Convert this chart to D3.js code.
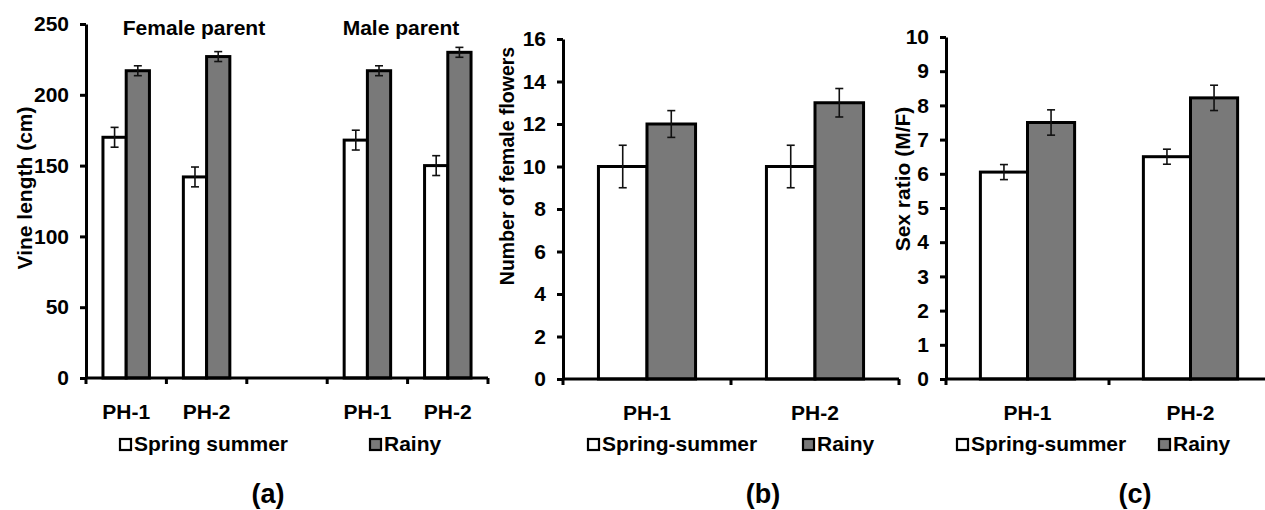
<!DOCTYPE html>
<html>
<head>
<meta charset="utf-8">
<script src="https://cdn.jsdelivr.net/npm/d3@7"></script>
<style>
  body { margin: 0; background: #fff; }
  svg { font-family: "Liberation Sans", Arial, sans-serif; font-weight: bold; }
</style>
</head>
<body>
<svg id="chart" width="1265" height="510"></svg>
<script>
// ---- data ----
var seriesNames = ['Spring', 'Rainy'];

// (a) vine length, female parent PH-1/PH-2, gap, male parent PH-1/PH-2
var vineLabels = ['PH-1', 'PH-2', '', 'PH-1', 'PH-2'];
var vineSpring = [170, 142, null, 168, 150];
var vineSpringErr = [7, 7, null, 7, 7];
var vineRainy = [217, 227, null, 217, 230];
var vineRainyErr = [3.5, 3.5, null, 3.5, 3.5];
var vineTicks = [0, 50, 100, 150, 200, 250];

// (b) number of female flowers
var flowerLabels = ['PH-1', 'PH-2'];
var flowerSpring = [10, 10];
var flowerSpringErr = [1, 1];
var flowerRainy = [12, 13];
var flowerRainyErr = [0.63, 0.67];
var flowerTicks = [0, 2, 4, 6, 8, 10, 12, 14, 16];

// (c) sex ratio
var ratioLabels = ['PH-1', 'PH-2'];
var ratioSpring = [6.05, 6.5];
var ratioSpringErr = [0.22, 0.22];
var ratioRainy = [7.5, 8.22];
var ratioRainyErr = [0.37, 0.37];
var ratioTicks = [0, 1, 2, 3, 4, 5, 6, 7, 8, 9, 10];

var colors = { Spring: '#ffffff', Rainy: '#797979' };
var fs = 21;

var svg = d3.select('#chart');

function drawPanel(p) {
  var g = svg.append('g');
  var idx = d3.range(p.labels.length);

  var x = d3.scaleBand().domain(idx).range([p.x0, p.x1]);
  var xs = d3.scaleBand().domain(seriesNames).range([0, x.bandwidth()])
    .paddingInner(0).paddingOuter(0.73);
  var y = d3.scaleLinear().domain([0, p.yMax]).range([p.y0, p.y1]);

  var rows = [];
  idx.forEach(function(i) {
    if (p.spring[i] != null) rows.push({ i: i, s: 'Spring', v: p.spring[i], e: p.springErr[i] });
    if (p.rainy[i] != null) rows.push({ i: i, s: 'Rainy', v: p.rainy[i], e: p.rainyErr[i] });
  });

  g.selectAll('rect.bar')
    .data(rows)
    .enter()
    .append('rect')
    .attr('class', 'bar')
    .attr('x', function(d) { return x(d.i) + xs(d.s); })
    .attr('y', function(d) { return y(d.v); })
    .attr('width', xs.bandwidth())
    .attr('height', function(d) { return y(0) - y(d.v); })
    .attr('fill', function(d) { return colors[d.s]; })
    .attr('stroke', '#000')
    .attr('stroke-width', 3);

  // error bars
  var eb = g.selectAll('g.err')
    .data(rows)
    .enter()
    .append('g')
    .attr('stroke', '#111')
    .attr('stroke-width', 1.6);
  function cx(d) { return x(d.i) + xs(d.s) + xs.bandwidth() / 2; }
  eb.append('line')
    .attr('x1', cx).attr('x2', cx)
    .attr('y1', function(d) { return y(d.v + d.e); })
    .attr('y2', function(d) { return y(d.v - d.e); });
  [1, -1].forEach(function(sign) {
    eb.append('line')
      .attr('x1', function(d) { return cx(d) - 4; })
      .attr('x2', function(d) { return cx(d) + 4; })
      .attr('y1', function(d) { return y(d.v + sign * d.e); })
      .attr('y2', function(d) { return y(d.v + sign * d.e); });
  });

  // y axis
  var yAxis = g.append('g')
    .attr('transform', 'translate(' + p.x0 + ',0)')
    .call(d3.axisLeft(y).tickValues(p.ticks).tickSize(6).tickPadding(11).tickSizeOuter(0));
  yAxis.select('.domain').attr('stroke-width', 3);
  yAxis.selectAll('.tick line').attr('stroke-width', 3);
  yAxis.selectAll('text').attr('font-size', fs).attr('font-weight', 'bold')
    .attr('font-family', '"Liberation Sans", Arial, sans-serif').attr('fill', '#000');

  // x axis: ticks on category boundaries
  var xAxisG = g.append('g').attr('transform', 'translate(0,' + p.y0 + ')');
  xAxisG.append('line')
    .attr('x1', p.x0).attr('x2', p.x1)
    .attr('stroke', '#000').attr('stroke-width', 3);
  var bounds = idx.map(function(i) { return x(i); }).concat([p.x1]);
  xAxisG.selectAll('line.t')
    .data(bounds)
    .enter()
    .append('line')
    .attr('x1', function(d) { return d; })
    .attr('x2', function(d) { return d; })
    .attr('y1', 0).attr('y2', 6)
    .attr('stroke', '#000').attr('stroke-width', 3);
  xAxisG.selectAll('text')
    .data(idx)
    .enter()
    .append('text')
    .attr('x', function(i) { return x(i) + x.bandwidth() / 2; })
    .attr('y', 41)
    .attr('text-anchor', 'middle')
    .attr('font-size', fs)
    .text(function(i) { return p.labels[i]; });

  // y label
  g.append('text')
    .attr('transform', 'translate(' + p.labelX + ',' + p.labelY + ') rotate(-90)')
    .attr('text-anchor', 'middle')
    .attr('font-size', p.labelSize)
    .text(p.yLabel);

  // legend
  var leg = g.selectAll('g.leg')
    .data(p.legend)
    .enter()
    .append('g')
    .attr('transform', function(d) { return 'translate(' + d.x + ',451)'; });
  leg.append('rect')
    .attr('x', 0).attr('y', -12)
    .attr('width', 11).attr('height', 11)
    .attr('fill', function(d) { return colors[d.s]; })
    .attr('stroke', '#000').attr('stroke-width', 2.2);
  leg.append('text')
    .attr('x', 14)
    .attr('font-size', fs)
    .text(function(d) { return d.text; });

  // panel letter
  g.append('text')
    .attr('x', p.letterX).attr('y', 503)
    .attr('text-anchor', 'middle')
    .attr('font-size', 27)
    .text(p.letter);

  return { g: g, x: x, y: y };
}

var a = drawPanel({
  labels: vineLabels, spring: vineSpring, springErr: vineSpringErr,
  rainy: vineRainy, rainyErr: vineRainyErr, ticks: vineTicks, yMax: 250,
  x0: 86, x1: 488, y0: 378, y1: 24,
  yLabel: 'Vine length (cm)', labelX: 32, labelY: 188, labelSize: 21,
  legend: [{ s: 'Spring', x: 120, text: 'Spring summer' }, { s: 'Rainy', x: 370, text: 'Rainy' }],
  letter: '(a)', letterX: 268
});
a.g.append('text').attr('x', 194).attr('y', 35).attr('text-anchor', 'middle')
  .attr('font-size', fs).text('Female parent');
a.g.append('text').attr('x', 401).attr('y', 35).attr('text-anchor', 'middle')
  .attr('font-size', fs).text('Male parent');

drawPanel({
  labels: flowerLabels, spring: flowerSpring, springErr: flowerSpringErr,
  rainy: flowerRainy, rainyErr: flowerRainyErr, ticks: flowerTicks, yMax: 16,
  x0: 563, x1: 899, y0: 379, y1: 39,
  yLabel: 'Number of female flowers', labelX: 514, labelY: 166, labelSize: 19.5,
  legend: [{ s: 'Spring', x: 588, text: 'Spring-summer' }, { s: 'Rainy', x: 803, text: 'Rainy' }],
  letter: '(b)', letterX: 763
});

drawPanel({
  labels: ratioLabels, spring: ratioSpring, springErr: ratioSpringErr,
  rainy: ratioRainy, rainyErr: ratioRainyErr, ticks: ratioTicks, yMax: 10,
  x0: 946, x1: 1272, y0: 379, y1: 37,
  yLabel: 'Sex ratio (M/F)', labelX: 910, labelY: 179, labelSize: 21,
  legend: [{ s: 'Spring', x: 957, text: 'Spring-summer' }, { s: 'Rainy', x: 1159, text: 'Rainy' }],
  letter: '(c)', letterX: 1135
});
</script>
</body>
</html>
